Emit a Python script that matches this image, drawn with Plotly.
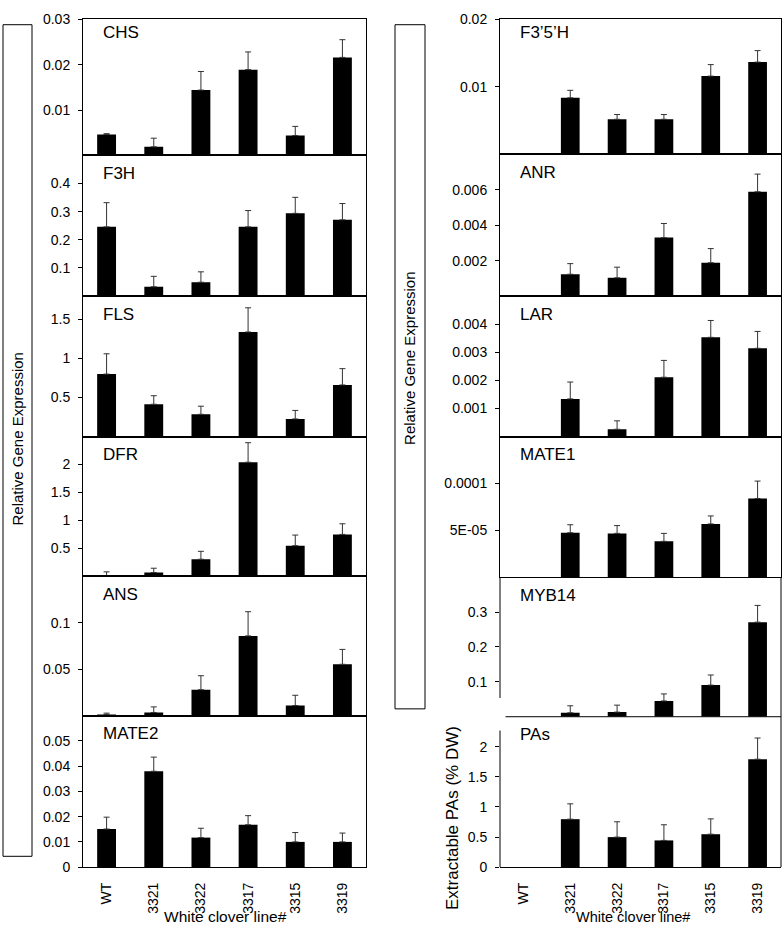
import plotly.graph_objects as go

# ---------------- data ----------------
lines = ["WT", "3321", "3322", "3317", "3315", "3319"]

chs = [0.0046, 0.0019, 0.0144, 0.0189, 0.0044, 0.0216]
chs_err = [0.0002, 0.0019, 0.0041, 0.0039, 0.0020, 0.0039]
f3h = [0.246, 0.033, 0.049, 0.246, 0.294, 0.271]
f3h_err = [0.086, 0.037, 0.037, 0.058, 0.057, 0.058]
fls = [0.80, 0.414, 0.285, 1.339, 0.226, 0.661]
fls_err = [0.26, 0.109, 0.104, 0.31, 0.109, 0.209]
dfr = [0.012, 0.065, 0.303, 2.04, 0.546, 0.748]
dfr_err = [0.065, 0.077, 0.142, 0.35, 0.19, 0.19]
ans = [0.0014, 0.0035, 0.028, 0.0858, 0.011, 0.0553]
ans_err = [0.0014, 0.006, 0.015, 0.026, 0.011, 0.016]
mate2 = [0.0151, 0.038, 0.0117, 0.0168, 0.0100, 0.0100]
mate2_err = [0.0047, 0.0056, 0.0037, 0.0036, 0.0037, 0.0035]

f35h = [None, 0.00838, 0.0052, 0.0052, 0.01158, 0.01365]
f35h_err = [0, 0.0011, 0.0007, 0.0007, 0.0017, 0.0017]
anr = [None, 0.00123, 0.00103, 0.0033, 0.00188, 0.00589]
anr_err = [0, 0.0006, 0.0006, 0.0008, 0.0008, 0.001]
lar = [None, 0.00134, 0.00026, 0.00211, 0.00353, 0.00314]
lar_err = [0, 0.0006, 0.0003, 0.0006, 0.0006, 0.0006]
mate1 = [None, 4.74e-5, 4.67e-5, 3.82e-5, 5.68e-5, 8.39e-5]
mate1_err = [0, 0.85e-5, 0.83e-5, 0.85e-5, 0.85e-5, 1.86e-5]
myb14 = [None, 0.0113, 0.0132, 0.0453, 0.0906, 0.271]
myb14_err = [0, 0.02, 0.02, 0.02, 0.029, 0.048]
pas = [None, 0.797, 0.499, 0.444, 0.547, 1.794]
pas_err = [0, 0.255, 0.255, 0.26, 0.255, 0.352]

gene_names = ["CHS", "F3H", "FLS", "DFR", "ANS", "MATE2",
              "F3\u20195\u2019H", "ANR", "LAR", "MATE1", "MYB14", "PAs"]

tick_vals = [
    [0.01, 0.02, 0.03],
    [0.1, 0.2, 0.3, 0.4],
    [0.5, 1, 1.5],
    [0.5, 1, 1.5, 2],
    [0.05, 0.1],
    [0, 0.01, 0.02, 0.03, 0.04, 0.05],
    [0.01, 0.02],
    [0.002, 0.004, 0.006],
    [0.001, 0.002, 0.003, 0.004],
    [5e-5, 1e-4],
    [0.1, 0.2, 0.3],
    [0, 0.5, 1, 1.5, 2],
]
tick_text = [
    ["0.01", "0.02", "0.03"],
    ["0.1", "0.2", "0.3", "0.4"],
    ["0.5", "1", "1.5"],
    ["0.5", "1", "1.5", "2"],
    ["0.05", "0.1"],
    ["0", "0.01", "0.02", "0.03", "0.04", "0.05"],
    ["0.01", "0.02"],
    ["0.002", "0.004", "0.006"],
    ["0.001", "0.002", "0.003", "0.004"],
    ["5E-05", "0.0001"],
    ["0.1", "0.2", "0.3"],
    ["0", "0.5", "1", "1.5", "2"],
]
y_max = [0.0301, 0.5, 1.8, 2.5, 0.15, 0.06,
         0.02005, 0.008, 0.005, 0.00015, 0.4, 2.5]

values = [chs, f3h, fls, dfr, ans, mate2, f35h, anr, lar, mate1, myb14, pas]
errors = [chs_err, f3h_err, fls_err, dfr_err, ans_err, mate2_err,
          f35h_err, anr_err, lar_err, mate1_err, myb14_err, pas_err]

# ---------------- layout geometry (pixels) ----------------
W, H = 784, 940
FONT = "Liberation Sans, Arial, sans-serif"
col_x = [(83, 366), (500, 781)]
rows = [[11, 150, 293, 436, 578, 720, 874], [11, 149, 293, 436, 579, 721, 874]]


def px(x):
    return x / W


def py(y):
    return 1 - y / H


fig = go.Figure()
layout = dict(
    width=W, height=H, margin=dict(l=0, r=0, t=0, b=0), autosize=False,
    paper_bgcolor="white", plot_bgcolor="white",
    font=dict(family=FONT, color="black", size=14),
    showlegend=False,
)
annotations = []
shapes = []

for i in range(12):
    col = i // 6
    r = i % 6
    k = i + 1
    sfx = "" if k == 1 else str(k)
    x0, x1 = col_x[col]
    top, bot = rows[col][r], rows[col][r + 1]
    fig.add_trace(go.Bar(
        x=lines, y=values[i], xaxis="x" + sfx, yaxis="y" + sfx,
        marker=dict(color="black", line=dict(width=0)), width=0.4,
        error_y=dict(type="data", array=errors[i], arrayminus=[0] * 6,
                     symmetric=False, color="#333333", thickness=1, width=3),
        showlegend=False, hoverinfo="skip",
    ))
    special = (col == 1 and r >= 4)
    layout["xaxis" + sfx] = dict(
        domain=[px(x0), px(x1)], anchor="y" + sfx,
        type="category", categoryorder="array", categoryarray=lines,
        range=[-0.5, 5.5], showgrid=False, zeroline=False,
        showline=not (col == 1 and r == 4), mirror=(not special),
        linecolor="black", linewidth=1,
        ticks="", showticklabels=(r == 5), tickangle=-90,
        ticklabelstandoff=9,
        tickfont=dict(size=14, family=FONT), fixedrange=True,
    )
    layout["yaxis" + sfx] = dict(
        domain=[py(bot), py(top)], anchor="x" + sfx,
        range=[0, y_max[i]], showgrid=False, zeroline=False,
        showline=not special, mirror=(not special),
        linecolor="black", linewidth=1,
        tickmode="array", tickvals=tick_vals[i], ticktext=tick_text[i],
        ticks="outside", ticklen=4, tickcolor="black", tickwidth=1,
        ticklabelstandoff=5, ticklabeloverflow="allow",
        tickfont=dict(size=14, family=FONT), fixedrange=True,
    )
    label_y = top + 18.5 if top > 20 else 25
    annotations.append(dict(
        text=gene_names[i], x=px(x0 + 18), y=py(label_y),
        xref="paper", yref="paper", xanchor="left", yanchor="middle",
        showarrow=False, font=dict(size=17, family=FONT),
    ))


def seg(xa, ya, xb, yb):
    shapes.append(dict(type="line", xref="paper", yref="paper",
                       x0=px(xa), y0=py(ya), x1=px(xb), y1=py(yb),
                       line=dict(color="black", width=1)))


# special borders for MYB14 / PAs (broken left axis)
seg(500, 579, 500, 702)      # MYB14 left axis
seg(781, 579, 781, 874)      # right border MYB14 + PAs
seg(505.5, 721, 781, 721)    # MYB14 bottom
seg(500, 735, 500, 874)      # PAs left axis

# label boxes
shapes.append(dict(type="rect", xref="paper", yref="paper",
                   x0=px(3), y0=py(863), x1=px(32), y1=py(17),
                   line=dict(color="black", width=1)))
shapes.append(dict(type="rect", xref="paper", yref="paper",
                   x0=px(395), y0=py(713), x1=px(425), y1=py(17),
                   line=dict(color="black", width=1)))

annotations += [
    dict(text="Relative Gene Expression", x=px(18), y=py(439), textangle=-90,
         xref="paper", yref="paper", xanchor="center", yanchor="middle",
         showarrow=False, font=dict(size=15, family=FONT)),
    dict(text="Relative Gene Expression", x=px(410), y=py(357), textangle=-90,
         xref="paper", yref="paper", xanchor="center", yanchor="middle",
         showarrow=False, font=dict(size=15, family=FONT)),
    dict(text="Extractable PAs (% DW)", x=px(453), y=py(824), textangle=-90,
         xref="paper", yref="paper", xanchor="center", yanchor="middle",
         showarrow=False, font=dict(size=17, family=FONT)),
    dict(text="White clover line#", x=px(225), y=py(934), borderpad=0,
         xref="paper", yref="paper", xanchor="center", yanchor="bottom",
         showarrow=False, font=dict(size=15.5, family=FONT)),
    dict(text="White clover line#", x=px(633), y=py(934), borderpad=0,
         xref="paper", yref="paper", xanchor="center", yanchor="bottom",
         showarrow=False, font=dict(size=14.5, family=FONT)),
]

layout["annotations"] = annotations
layout["shapes"] = shapes
fig.update_layout(**layout)
fig.write_html(
    "out.html",
    config={"displayModeBar": False, "staticPlot": True, "responsive": False},
    post_script="document.documentElement.style.margin='0px';"
                "document.body.style.margin='0px';"
                "document.body.style.padding='0px';"
                "document.documentElement.style.overflow='hidden';"
                "document.body.style.overflow='hidden';",
)
